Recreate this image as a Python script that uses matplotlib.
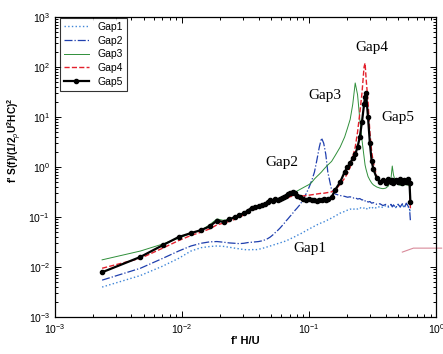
import matplotlib
matplotlib.use('Agg')
import matplotlib.pyplot as plt
from matplotlib.ticker import LogLocator, NullFormatter

plt.rcParams['font.family'] = ['Liberation Sans', 'DejaVu Sans']
plt.rcParams['mathtext.fontset'] = 'custom'
plt.rcParams['mathtext.rm'] = 'Liberation Sans:bold'
plt.rcParams['mathtext.it'] = 'Liberation Sans:italic'
plt.rcParams['mathtext.bf'] = 'Liberation Sans:bold'

# reduced frequency f*H/U (shared by all gaps)
freq = [0.00235, 0.0047, 0.00705, 0.0094, 0.01175, 0.0141, 0.01645, 0.0188, 0.0212, 0.0235,
        0.0259, 0.0282, 0.0306, 0.0329, 0.0353, 0.0376, 0.0400, 0.0423, 0.0447, 0.0470,
        0.0494, 0.0517, 0.0540, 0.0564, 0.0588, 0.0611, 0.0635, 0.0658, 0.0682, 0.0705,
        0.0729, 0.0752, 0.0776, 0.0800, 0.0850, 0.0900, 0.0950, 0.1000, 0.1050, 0.1100,
        0.1150, 0.1200, 0.1250, 0.1300, 0.1350, 0.1400, 0.1500, 0.1600, 0.1750, 0.1900,
        0.2000, 0.2100, 0.2200, 0.2300, 0.2400, 0.2500, 0.2600, 0.2700, 0.2750, 0.2800,
        0.2900, 0.3000, 0.3100, 0.3200, 0.3400, 0.3600, 0.3800, 0.4000, 0.4200, 0.4400,
        0.4500, 0.4600, 0.4800, 0.5000, 0.5200, 0.5400, 0.5600, 0.5800, 0.6000, 0.6150,
        0.6250]

gap1 = [0.0040, 0.0068, 0.0105, 0.0150, 0.0210, 0.0245, 0.0258, 0.0265, 0.0260, 0.0250,
        0.0240, 0.0232, 0.0225, 0.0222, 0.0225, 0.0222, 0.0228, 0.0235, 0.0245, 0.0255,
        0.0265, 0.0275, 0.0285, 0.0295, 0.0305, 0.0315, 0.0325, 0.0335, 0.0350, 0.0365,
        0.0380, 0.0395, 0.0410, 0.0430, 0.0460, 0.0500, 0.0540, 0.0580, 0.0620, 0.0660,
        0.0700, 0.0740, 0.0770, 0.0800, 0.0840, 0.0880, 0.0960, 0.1050, 0.1200, 0.1300,
        0.1380, 0.1450, 0.1400, 0.1500, 0.1450, 0.1550, 0.1480, 0.1520, 0.1450, 0.1500,
        0.1420, 0.1550, 0.1480, 0.1600, 0.1500, 0.1650, 0.1550, 0.1700, 0.1580, 0.1750,
        0.1600, 0.1720, 0.1550, 0.1800, 0.1600, 0.1750, 0.1550, 0.1850, 0.1600, 0.1500,
        0.1200]

gap2 = [0.0055, 0.0095, 0.0150, 0.0210, 0.0265, 0.0300, 0.0320, 0.0325, 0.0315, 0.0305,
        0.0300, 0.0295, 0.0300, 0.0310, 0.0315, 0.0320, 0.0325, 0.0335, 0.0350, 0.0370,
        0.0400, 0.0440, 0.0490, 0.0540, 0.0600, 0.0670, 0.0750, 0.0840, 0.0930, 0.1030,
        0.1130, 0.1250, 0.1380, 0.1500, 0.1800, 0.2300, 0.3000, 0.4000, 0.5500, 0.8000,
        1.4000, 2.5000, 3.8000, 3.0000, 1.8000, 0.8000, 0.3500, 0.2900, 0.2700, 0.2600,
        0.2500, 0.2550, 0.2400, 0.2450, 0.2300, 0.2350, 0.2200, 0.2250, 0.2100, 0.2150,
        0.2000, 0.2050, 0.1900, 0.1950, 0.1800, 0.1850, 0.1700, 0.1800, 0.1650, 0.1800,
        0.1600, 0.1750, 0.1550, 0.1800, 0.1600, 0.1850, 0.1550, 0.1900, 0.1650, 0.1500,
        0.0850]

gap3 = [0.0140, 0.0210, 0.0290, 0.0380, 0.0470, 0.0550, 0.0700, 0.0920, 0.0860, 0.0900,
        0.0980, 0.1080, 0.1180, 0.1300, 0.1450, 0.1520, 0.1580, 0.1680, 0.1780, 0.1900,
        0.2000, 0.2080, 0.2180, 0.2280, 0.2380, 0.2480, 0.2560, 0.2650, 0.2750, 0.2850,
        0.2950, 0.3050, 0.3150, 0.3300, 0.3600, 0.3900, 0.4200, 0.4500, 0.5000, 0.5800,
        0.6500, 0.7200, 0.8000, 0.9000, 1.0000, 1.1000, 1.3000, 1.7000, 2.5000, 4.0000,
        6.0000, 9.0000, 18.000, 48.000, 28.000, 9.0000, 3.5000, 1.6000, 1.1000, 0.9000,
        0.6500, 0.5500, 0.4800, 0.4400, 0.4000, 0.3800, 0.3700, 0.3800, 0.4200, 0.6000,
        1.0500, 0.7000, 0.4800, 0.4500, 0.4300, 0.4600, 0.4400, 0.4500, 0.4300, 0.4500,
        0.4000]

gap4 = [0.0095, 0.0150, 0.0240, 0.0340, 0.0430, 0.0500, 0.0580, 0.0700, 0.0760, 0.0820,
        0.0900, 0.1000, 0.1100, 0.1200, 0.1350, 0.1450, 0.1550, 0.1650, 0.1750, 0.1850,
        0.1950, 0.2000, 0.2080, 0.2150, 0.2200, 0.2250, 0.2300, 0.2380, 0.2450, 0.2550,
        0.2600, 0.2650, 0.2700, 0.2750, 0.2700, 0.2650, 0.2700, 0.2750, 0.2800, 0.2850,
        0.2900, 0.2950, 0.3000, 0.3000, 0.3050, 0.3100, 0.3200, 0.3500, 0.4500, 0.6000,
        0.7500, 1.0000, 1.6000, 2.5000, 5.0000, 12.000, 30.000, 100.00, 120.00, 60.000,
        20.000, 5.0000, 2.0000, 1.2000, 0.6500, 0.5500, 0.5200, 0.5500, 0.5000, 0.5400,
        0.5000, 0.5300, 0.5600, 0.5100, 0.5400, 0.5000, 0.5500, 0.5200, 0.5600, 0.4500,
        0.1500]

gap5 = [0.0079, 0.0160, 0.0275, 0.0400, 0.0480, 0.0550, 0.0650, 0.0850, 0.0800, 0.0900,
        0.1000, 0.1100, 0.1200, 0.1350, 0.1550, 0.1600, 0.1650, 0.1750, 0.1850, 0.2000,
        0.2150, 0.2100, 0.2250, 0.2200, 0.2300, 0.2400, 0.2500, 0.2700, 0.2900, 0.3000,
        0.3100, 0.3200, 0.3000, 0.2700, 0.2500, 0.2300, 0.2200, 0.2250, 0.2150, 0.2200,
        0.2100, 0.2200, 0.2150, 0.2250, 0.2200, 0.2300, 0.2500, 0.3500, 0.5000, 0.8000,
        1.0000, 1.2000, 1.5000, 1.8000, 2.5000, 4.0000, 8.0000, 18.000, 25.000, 30.000,
        10.000, 3.0000, 1.3000, 0.9000, 0.6000, 0.5000, 0.5500, 0.4800, 0.5800, 0.5000,
        0.5600, 0.4700, 0.5500, 0.5000, 0.5800, 0.4800, 0.5500, 0.5100, 0.5700, 0.4800,
        0.2000]

# stray pink line at the right edge of the scanned figure
stray_x = [0.54, 0.66, 1.1]
stray_y = [0.020, 0.024, 0.024]

# curve labels and their positions
label_text = ['Gap1', 'Gap2', 'Gap3', 'Gap4', 'Gap5']
label_x = [0.102, 0.061, 0.134, 0.31, 0.50]
label_y = [0.024, 1.26, 27.0, 250.0, 10.0]

fig = plt.figure(figsize=(4.43, 3.54), dpi=100)
ax = fig.add_axes([0.124, 0.104, 0.861, 0.848])

ax.plot(freq, gap1, ':', color='#3f86d8', lw=1.0, label='Gap1')
ax.plot(freq, gap2, '-.', color='#1f3fae', lw=0.9, label='Gap2')
ax.plot(freq, gap3, '-', color='#2f8f3a', lw=0.7, label='Gap3')
ax.plot(freq, gap4, '--', color='#e3202c', lw=1.0, label='Gap4')
ax.plot(freq, gap5, '-', color='black', lw=1.6, marker='o', ms=3.0, label='Gap5')
ax.plot(stray_x, stray_y, '-', color='#d98a9a', lw=0.8, clip_on=False)

for t, x, y in zip(label_text, label_x, label_y):
    ax.text(x, y, t, family='Liberation Serif', fontsize=11, ha='center', va='center')

ax.set_xscale('log')
ax.set_yscale('log')
ax.set_xlim(1e-3, 1)
ax.set_ylim(1e-3, 1e3)
ax.yaxis.set_major_locator(LogLocator(base=10, numticks=10))
ax.yaxis.set_minor_locator(LogLocator(base=10, subs=range(2, 10), numticks=10))
ax.yaxis.set_minor_formatter(NullFormatter())
ax.tick_params(which='both', direction='in', top=True, right=True, labelsize=7.5, width=0.7)
ax.tick_params(which='major', length=4.5)
ax.tick_params(which='minor', length=2.2)
for lab in ax.get_xticklabels() + ax.get_yticklabels():
    lab.set_fontweight('normal')
for s in ax.spines.values():
    s.set_linewidth(0.9)

ax.set_xlabel("f' H/U", fontsize=8, fontweight='bold', labelpad=0)
ax.set_ylabel(r"f' S(f)/(1/2$_{\rho}$U$^2$HC)$^2$", fontsize=7.3, fontweight='bold')
ax.yaxis.set_label_coords(-0.08, 0.59)

leg = ax.legend(loc='upper left', bbox_to_anchor=(0.012, 0.997), fontsize=7.5, frameon=True,
                fancybox=False, edgecolor='black', handlelength=2.4, handletextpad=0.8,
                labelspacing=0.35, borderpad=0.4, borderaxespad=0)
leg.get_frame().set_linewidth(0.8)

fig.savefig('out.png', dpi=100)
